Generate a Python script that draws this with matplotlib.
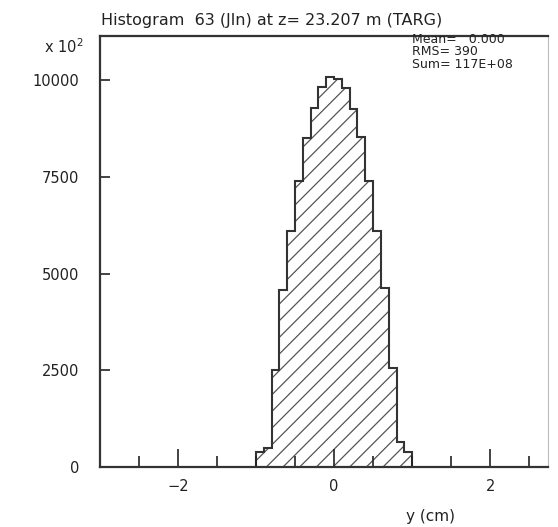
import matplotlib
matplotlib.use("Agg")
import matplotlib.pyplot as plt
from matplotlib.ticker import FixedLocator, MultipleLocator

# bin edges (cm) and contents (x 10^2)
edges = [-1.0, -0.9, -0.8, -0.7, -0.6, -0.5, -0.4, -0.3, -0.2, -0.1, 0.0,
         0.1, 0.2, 0.3, 0.4, 0.5, 0.6, 0.7, 0.8, 0.9, 1.0]
counts = [390, 490, 2500, 4570, 6100, 7390, 8500, 9280, 9820, 10080,
          10030, 9800, 9250, 8530, 7390, 6100, 4620, 2560, 650, 390]

x_major = [-2, 0, 2]
y_major = [0, 2500, 5000, 7500, 10000]
y_labels = ["0", "2500", "5000", "7500", "10000"]

title = "Histogram  63 (Jln) at z= 23.207 m (TARG)"
stats = ["Mean=   0.000", "RMS= 390", "Sum= 117E+08"]

plt.rcParams['font.family'] = ['DejaVu Sans']
plt.rcParams['hatch.linewidth'] = 0.9
plt.rcParams['hatch.color'] = '#555555'

fig = plt.figure(figsize=(5.58, 5.27), dpi=100)
ax = fig.add_axes([0.179, 0.114, 0.803, 0.818])

# hatched fill, then the dark outline on top
ax.stairs(counts, edges, baseline=0, fill=True, facecolor='white',
          edgecolor='#555555', linewidth=0, hatch='//')
ax.stairs(counts, edges, baseline=0, color='#333333', linewidth=1.5)

ax.set_xlim(-3, 2.74)
ax.set_ylim(0, 11150)

ax.xaxis.set_major_locator(FixedLocator(x_major))
ax.xaxis.set_minor_locator(MultipleLocator(0.5))
ax.yaxis.set_major_locator(FixedLocator(y_major))
ax.set_yticklabels(y_labels)

ax.tick_params(axis='x', which='major', direction='in', length=13, width=1.2,
               pad=9, labelsize=10.5, colors='#222222')
ax.tick_params(axis='x', which='minor', direction='in', length=8, width=1.2,
               colors='#222222')
ax.tick_params(axis='y', which='major', direction='in', length=7, width=1.2,
               pad=15, labelsize=10.5, colors='#222222')
ax.tick_params(top=False, right=False)

for s in ['left', 'bottom', 'top']:
    ax.spines[s].set_linewidth(1.6)
    ax.spines[s].set_color('#333333')
ax.spines['right'].set_linewidth(0.8)
ax.spines['right'].set_color('#bbbbbb')

# texts around the frame
fig.text(0.181, 0.962, title, fontsize=11.5, color='#222222', va='center')
fig.text(0.114, 0.911, r"x 10$^2$", fontsize=10.5, color='#222222',
         ha='center', va='center')
fig.text(0.816, 0.019, "y (cm)", fontsize=11, color='#222222',
         ha='right', va='center')

# stats box text, tightly packed lines like the original
fig.text(0.739, 0.937, "\n".join(stats), fontsize=9, color='#222222',
         va='top', linespacing=0.92)

fig.savefig("out.png", dpi=100)
